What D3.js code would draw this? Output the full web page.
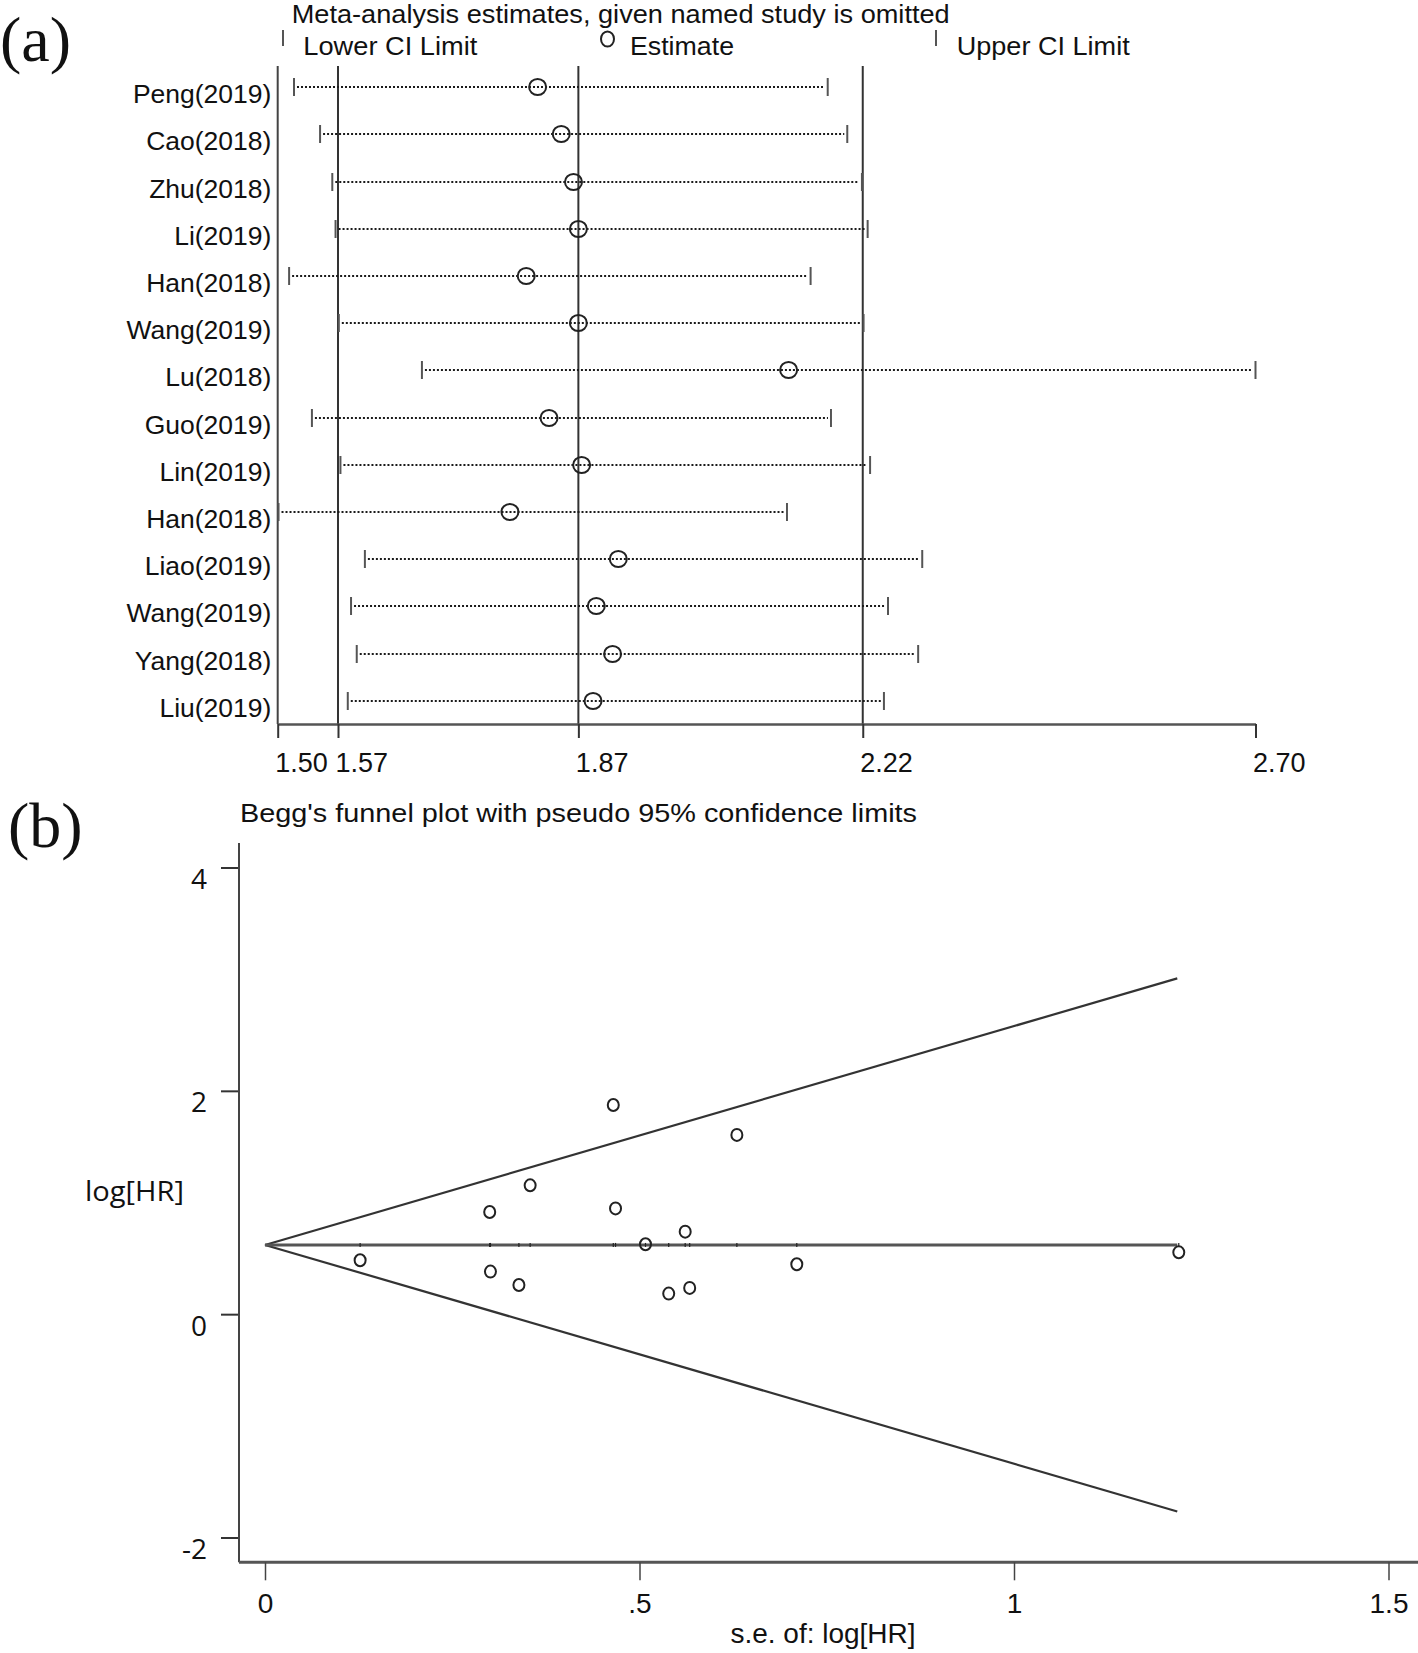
<!DOCTYPE html>
<html><head><meta charset="utf-8">
<script src="https://cdn.jsdelivr.net/npm/d3@7"></script>
<style>
html,body{margin:0;padding:0;background:#fff;}
svg{display:block;}
</style>
</head><body>
<svg id="chart" width="1418" height="1653"></svg>
<script>
// ---------- Panel (a): leave-one-out sensitivity analysis ----------
const studies = ["Peng(2019)","Cao(2018)","Zhu(2018)","Li(2019)","Han(2018)","Wang(2019)","Lu(2018)","Guo(2019)","Lin(2019)","Han(2018)","Liao(2019)","Wang(2019)","Yang(2018)","Liu(2019)"];
const estimates = [1.819,1.848,1.863,1.869,1.805,1.869,2.127,1.833,1.873,1.785,1.918,1.891,1.911,1.887];
const lowerCI  = [1.520,1.552,1.567,1.571,1.514,1.575,1.677,1.542,1.577,1.501,1.607,1.590,1.597,1.586];
const upperCI  = [2.175,2.199,2.217,2.224,2.154,2.219,2.700,2.179,2.227,2.125,2.291,2.249,2.286,2.244];
const overallLines = [1.574, 1.869, 2.218];          // overall lower CI, estimate, upper CI
const ticksA = [1.50, 1.574, 1.869, 2.218, 2.70];
const titleA = "Meta-analysis estimates, given named study is omitted";
const legendA = ["Lower CI Limit", "Estimate", "Upper CI Limit"];

// ---------- Panel (b): Begg's funnel plot ----------
const seLogHR = [0.127,0.300,0.301,0.339,0.354,0.465,0.468,0.508,0.539,0.561,0.567,0.630,0.710,1.220];
const logHR   = [0.483,0.915,0.381,0.261,1.154,1.873,0.947,0.626,0.184,0.739,0.235,1.605,0.447,0.554];
const pooledLogHR = 0.62;
const funnelSe    = [0, 1.218];
const upperLimit  = [0.62, 3.007];
const lowerLimit  = [0.62, -1.767];
const ticksBy = [-2, 0, 2, 4];
const ticksBx = [0, 0.5, 1, 1.5];
const titleB = "Begg's funnel plot with pseudo 95% confidence limits";

const svg = d3.select("#chart");
const SANS = "'Liberation Sans', Arial, sans-serif";
const INK = "#222";

// ===== Panel (a) =====
const ga = svg.append("g");
const xA = d3.scaleLinear().domain([1.50, 2.70]).range([277.7, 1255.5]);
const yA = d3.scaleLinear().domain([0, studies.length - 1]).range([87.3, 700.7]);
const rowY = i => Math.round(yA(i));
const axisYA = 724, topA = 66;

ga.append("text").attr("x", 0).attr("y", 61).attr("font-family", "'Liberation Serif','Times New Roman',serif")
  .attr("font-size", 64).attr("fill", "#111").text("(a)");

ga.append("text").attr("x", 291.7).attr("y", 23).attr("font-family", SANS).attr("font-size", 26)
  .attr("textLength", 658).attr("lengthAdjust", "spacingAndGlyphs").attr("fill", "#111").text(titleA);

// legend
ga.append("line").attr("x1", 283).attr("x2", 283).attr("y1", 30).attr("y2", 46).attr("stroke", "#555").attr("stroke-width", 2);
ga.append("text").attr("x", 303.3).attr("y", 55).attr("font-family", SANS).attr("font-size", 26.5)
  .attr("textLength", 174).attr("lengthAdjust", "spacingAndGlyphs").attr("fill", "#111").text(legendA[0]);
ga.append("ellipse").attr("cx", 607.5).attr("cy", 39).attr("rx", 6.5).attr("ry", 7.5).attr("fill", "none").attr("stroke", INK).attr("stroke-width", 2);
ga.append("text").attr("x", 630).attr("y", 55).attr("font-family", SANS).attr("font-size", 26.5)
  .attr("textLength", 104).attr("lengthAdjust", "spacingAndGlyphs").attr("fill", "#111").text(legendA[1]);
ga.append("line").attr("x1", 936).attr("x2", 936).attr("y1", 30).attr("y2", 46).attr("stroke", "#555").attr("stroke-width", 2);
ga.append("text").attr("x", 956.7).attr("y", 55).attr("font-family", SANS).attr("font-size", 26.5)
  .attr("textLength", 173).attr("lengthAdjust", "spacingAndGlyphs").attr("fill", "#111").text(legendA[2]);

// left axis line at domain min
ga.append("line").attr("x1", xA(1.50)).attr("x2", xA(1.50)).attr("y1", topA).attr("y2", axisYA)
  .attr("stroke", "#444").attr("stroke-width", 2);
// overall vertical reference lines
ga.selectAll("line.ref").data(overallLines).enter().append("line").attr("class", "ref")
  .attr("x1", d => xA(d)).attr("x2", d => xA(d)).attr("y1", topA).attr("y2", axisYA)
  .attr("stroke", "#333").attr("stroke-width", 2);

// bottom axis
const axA = ga.append("g").attr("transform", `translate(0,${axisYA})`)
  .call(d3.axisBottom(xA).tickValues(ticksA).tickFormat(d3.format(".2f")).tickSize(14).tickSizeOuter(0));
axA.select(".domain").attr("stroke", "#555").attr("stroke-width", 2.6);
axA.selectAll(".tick line").attr("stroke", "#333").attr("stroke-width", 2);
axA.selectAll(".tick text").attr("font-family", SANS).attr("font-size", 27).attr("fill", "#111")
  .attr("text-anchor", "start").attr("x", -3).attr("y", 48).attr("dy", 0);

// rows
const rows = ga.selectAll("g.row").data(studies).enter().append("g").attr("class", "row");
rows.append("text").attr("x", 271.4).attr("y", (d, i) => rowY(i) + 16).attr("text-anchor", "end")
  .attr("font-family", SANS).attr("font-size", 26.5).attr("fill", "#111").text(d => d);
rows.append("line").attr("x1", (d, i) => xA(lowerCI[i]) + 3).attr("x2", (d, i) => xA(upperCI[i]) - 3)
  .attr("y1", (d, i) => rowY(i)).attr("y2", (d, i) => rowY(i))
  .attr("stroke", "#1a1a1a").attr("stroke-width", 2).attr("stroke-dasharray", "2,2");
rows.append("line").attr("x1", (d, i) => xA(lowerCI[i])).attr("x2", (d, i) => xA(lowerCI[i]))
  .attr("y1", (d, i) => rowY(i) - 9).attr("y2", (d, i) => rowY(i) + 9).attr("stroke", "#555").attr("stroke-width", 2);
rows.append("line").attr("x1", (d, i) => xA(upperCI[i])).attr("x2", (d, i) => xA(upperCI[i]))
  .attr("y1", (d, i) => rowY(i) - 9).attr("y2", (d, i) => rowY(i) + 9).attr("stroke", "#555").attr("stroke-width", 2);
rows.append("ellipse").attr("cx", (d, i) => xA(estimates[i])).attr("cy", (d, i) => rowY(i))
  .attr("rx", 8.5).attr("ry", 8).attr("fill", "none").attr("stroke", INK).attr("stroke-width", 2);

// ===== Panel (b) =====
const gb = svg.append("g");
const xB = d3.scaleLinear().domain([0, 1.5]).range([265, 1388.5]);
const yB = d3.scaleLinear().domain([-2, 4]).range([1537.5, 867.5]);
const leftB = 239, topB = 843, bottomB = 1562.3, rightB = 1418;

gb.append("text").attr("x", 8).attr("y", 847).attr("font-family", "'Liberation Serif','Times New Roman',serif")
  .attr("font-size", 64).attr("fill", "#111").text("(b)");
gb.append("text").attr("x", 240).attr("y", 822).attr("font-family", SANS).attr("font-size", 25.5)
  .attr("textLength", 677).attr("lengthAdjust", "spacingAndGlyphs").attr("fill", "#111").text(titleB);

// axes frame lines
gb.append("line").attr("x1", leftB).attr("x2", leftB).attr("y1", topB).attr("y2", bottomB).attr("stroke", "#444").attr("stroke-width", 2);
gb.append("line").attr("x1", leftB).attr("x2", rightB).attr("y1", bottomB).attr("y2", bottomB).attr("stroke", "#555").attr("stroke-width", 3);

// y axis ticks
const ayB = gb.append("g").attr("transform", `translate(${leftB - 1},0)`)
  .call(d3.axisLeft(yB).tickValues(ticksBy).tickSize(17).tickSizeOuter(0));
ayB.select(".domain").remove();
ayB.selectAll(".tick line").attr("stroke", "#333").attr("stroke-width", 2);
ayB.selectAll(".tick text").attr("font-family", "'Open Sans', sans-serif").attr("font-size", 28).attr("fill", "#111")
  .attr("x", -31).attr("dy", 0).attr("y", 21).text(d => d < 0 ? "-" + Math.abs(d) : d);

gb.append("text").attr("x", 85).attr("y", 1201).attr("font-family", "'Open Sans', sans-serif").attr("font-size", 28)
  .attr("textLength", 99).attr("lengthAdjust", "spacingAndGlyphs").attr("fill", "#111").text("log[HR]");

// x axis ticks
const axB = gb.append("g").attr("transform", `translate(0,${bottomB})`)
  .call(d3.axisBottom(xB).tickValues(ticksBx).tickSize(18).tickSizeOuter(0)
    .tickFormat(d => d === 0.5 ? ".5" : String(d)));
axB.select(".domain").remove();
axB.selectAll(".tick line").attr("stroke", "#444").attr("stroke-width", 1.5);
axB.selectAll(".tick text").attr("font-family", SANS).attr("font-size", 28).attr("fill", "#111")
  .attr("y", 51).attr("dy", 0);

gb.append("text").attr("x", 823).attr("y", 1643).attr("text-anchor", "middle").attr("font-family", SANS)
  .attr("font-size", 28).attr("fill", "#111").text("s.e. of: log[HR]");

// funnel lines
const line = d3.line().x(d => xB(d[0])).y(d => yB(d[1]));
gb.append("path").attr("d", line(funnelSe.map((s, i) => [s, upperLimit[i]])))
  .attr("fill", "none").attr("stroke", "#333").attr("stroke-width", 2.2);
gb.append("path").attr("d", line(funnelSe.map((s, i) => [s, lowerLimit[i]])))
  .attr("fill", "none").attr("stroke", "#333").attr("stroke-width", 2.2);
gb.append("path").attr("d", line([[funnelSe[0], pooledLogHR], [funnelSe[1], pooledLogHR]]))
  .attr("fill", "none").attr("stroke", "#555").attr("stroke-width", 3);
// tiny marks on the pooled line at each study's s.e.
gb.selectAll("line.mk").data(seLogHR).enter().append("line").attr("class", "mk")
  .attr("x1", d => xB(d)).attr("x2", d => xB(d))
  .attr("y1", yB(pooledLogHR) - 2).attr("y2", yB(pooledLogHR) + 2).attr("stroke", "#222").attr("stroke-width", 1.2);

// study points
gb.selectAll("ellipse.pt").data(seLogHR).enter().append("ellipse").attr("class", "pt")
  .attr("cx", d => xB(d)).attr("cy", (d, i) => yB(logHR[i]))
  .attr("rx", 5.5).attr("ry", 6).attr("fill", "none").attr("stroke", INK).attr("stroke-width", 2);
</script>
</body></html>
